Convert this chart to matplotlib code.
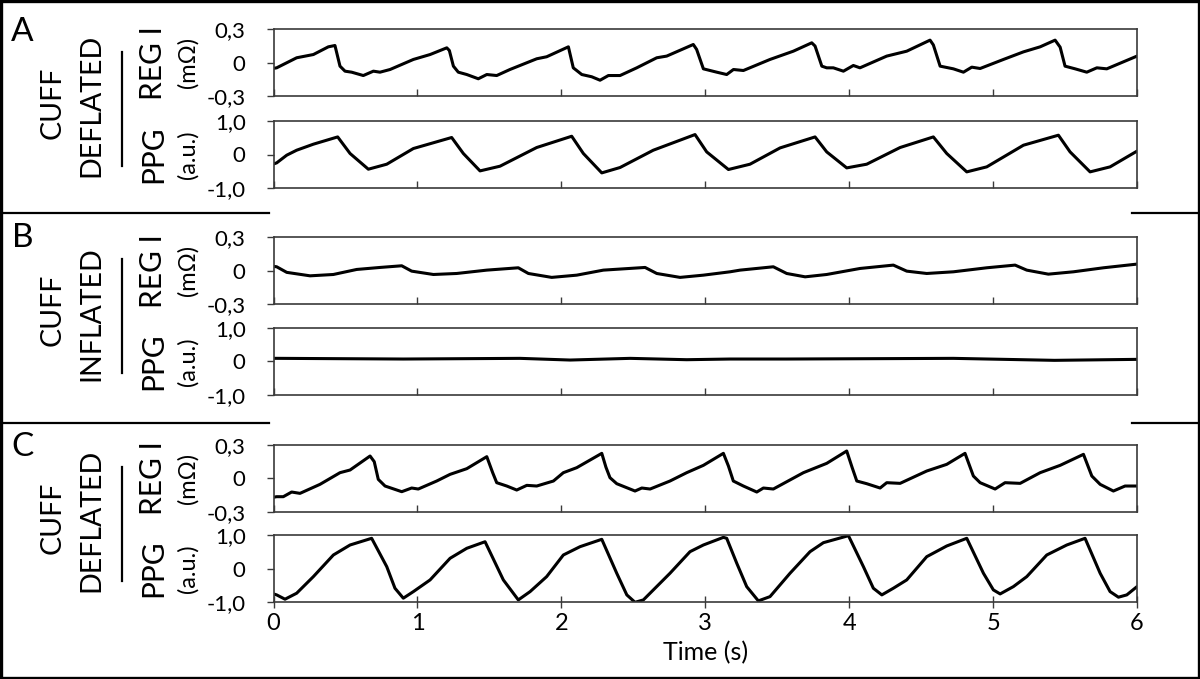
import matplotlib
matplotlib.use("Agg")
import matplotlib.pyplot as plt
from matplotlib.lines import Line2D
from matplotlib.patches import Rectangle

plt.rcParams['font.family'] = ['Lato', 'DejaVu Sans']

# ---- traced data (time in s) ----
# A: cuff deflated
reg_a_t = [0.0, 0.022, 0.161, 0.277, 0.381, 0.427, 0.462, 0.497, 0.543, 0.624, 0.694, 0.740, 0.810,
           0.972, 1.088, 1.204, 1.222, 1.250, 1.284, 1.343, 1.423, 1.482, 1.551, 1.643, 1.829, 1.898,
           2.049, 2.083, 2.142, 2.211, 2.269, 2.327, 2.408, 2.524, 2.663, 2.732, 2.917, 2.940, 2.987,
           3.080, 3.149, 3.196, 3.265, 3.450, 3.612, 3.740, 3.763, 3.810, 3.844, 3.890, 3.960, 4.029,
           4.075, 4.261, 4.400, 4.562, 4.585, 4.632, 4.724, 4.794, 4.852, 4.910, 5.072, 5.211, 5.327,
           5.431, 5.466, 5.500, 5.570, 5.651, 5.721, 5.790, 6.0]
reg_a_v = [-0.05, -0.045, 0.045, 0.074, 0.143, 0.155, -0.030, -0.075, -0.084, -0.114, -0.075, -0.084, -0.060,
           0.030, 0.074, 0.134, 0.11, -0.030, -0.084, -0.105, -0.143, -0.105, -0.114, -0.060, 0.036, 0.054,
           0.143, -0.045, -0.105, -0.125, -0.156, -0.114, -0.114, -0.045, 0.045, 0.060, 0.164, 0.12, -0.054,
           -0.084, -0.105, -0.060, -0.069, 0.030, 0.104, 0.179, 0.15, -0.030, -0.045, -0.045, -0.075, -0.024,
           -0.045, 0.060, 0.104, 0.203, 0.16, -0.030, -0.054, -0.084, -0.039, -0.051, 0.030, 0.098, 0.143,
           0.203, 0.14, -0.030, -0.054, -0.084, -0.045, -0.054, 0.060]

ppg_a_t = [0.0, 0.022, 0.092, 0.161, 0.277, 0.430, 0.446, 0.532, 0.659, 0.787, 0.972, 1.238, 1.319, 1.435,
           1.574, 1.829, 2.072, 2.153, 2.281, 2.408, 2.639, 2.929, 3.010, 3.161, 3.311, 3.520, 3.763,
           3.844, 3.983, 4.122, 4.354, 4.585, 4.678, 4.817, 4.956, 5.211, 5.454, 5.535, 5.674, 5.813, 6.0]
ppg_a_v = [-0.28, -0.248, -0.02, 0.127, 0.305, 0.50, 0.52, 0.03, -0.435, -0.287, 0.177, 0.503, 0.03, -0.485,
           -0.346, 0.207, 0.54, 0.03, -0.544, -0.385, 0.127, 0.59, 0.077, -0.444, -0.287, 0.195, 0.52,
           0.077, -0.396, -0.287, 0.207, 0.52, 0.03, -0.514, -0.366, 0.275, 0.571, 0.077, -0.514, -0.366, 0.10]

# B: cuff inflated
reg_b_t = [0.0, 0.022, 0.092, 0.254, 0.416, 0.578, 0.740, 0.891, 0.960, 1.111, 1.273, 1.482, 1.701,
           1.771, 1.933, 2.107, 2.292, 2.582, 2.663, 2.825, 2.987, 3.172, 3.242, 3.473, 3.566, 3.694,
           3.844, 4.076, 4.307, 4.400, 4.539, 4.724, 4.956, 5.153, 5.234, 5.384, 5.558, 5.767, 6.0]
reg_b_v = [0.04, 0.036, -0.014, -0.045, -0.033, 0.012, 0.030, 0.045, -0.003, -0.033, -0.024, 0.006, 0.027,
           -0.024, -0.059, -0.039, 0.006, 0.030, -0.024, -0.059, -0.039, -0.009, 0.006, 0.036, -0.024, -0.054,
           -0.033, 0.021, 0.051, -0.003, -0.024, -0.009, 0.027, 0.051, 0.006, -0.030, -0.009, 0.027, 0.060]

ppg_b_t = [0.0, 0.902, 1.713, 2.061, 2.478, 2.871, 3.172, 3.566, 4.724, 5.426, 6.0]
ppg_b_v = [0.09, 0.069, 0.089, 0.039, 0.089, 0.049, 0.069, 0.069, 0.089, 0.03, 0.059]

# C: cuff deflated
reg_c_t = [0.0, 0.022, 0.068, 0.126, 0.184, 0.323, 0.462, 0.532, 0.671, 0.700, 0.728, 0.775, 0.891,
           0.960, 1.006, 1.134, 1.227, 1.343, 1.482, 1.523, 1.551, 1.621, 1.690, 1.760, 1.829, 1.945,
           2.014, 2.107, 2.281, 2.310, 2.338, 2.385, 2.512, 2.559, 2.617, 2.755, 2.871, 2.987, 3.126,
           3.161, 3.195, 3.265, 3.358, 3.404, 3.473, 3.682, 3.844, 3.983, 4.020, 4.053, 4.122, 4.215,
           4.261, 4.354, 4.539, 4.678, 4.805, 4.863, 4.910, 5.014, 5.083, 5.188, 5.327, 5.466, 5.628,
           5.686, 5.744, 5.836, 5.917, 6.0]
reg_c_v = [-0.17, -0.165, -0.165, -0.123, -0.135, -0.054, 0.051, 0.075, 0.201, 0.15, -0.009, -0.069, -0.120,
           -0.087, -0.096, -0.024, 0.036, 0.087, 0.195, 0.051, -0.039, -0.069, -0.105, -0.063, -0.069, -0.024,
           0.051, 0.096, 0.225, 0.10, 0.006, -0.048, -0.114, -0.087, -0.096, -0.024, 0.051, 0.117, 0.225,
           0.111, -0.024, -0.069, -0.123, -0.087, -0.096, 0.051, 0.135, 0.246, 0.10, -0.024, -0.048, -0.087,
           -0.039, -0.045, 0.066, 0.126, 0.225, 0.021, -0.039, -0.096, -0.039, -0.045, 0.051, 0.117, 0.216,
           0.021, -0.054, -0.114, -0.069, -0.069]

ppg_c_t = [0.0, 0.022, 0.080, 0.161, 0.277, 0.416, 0.532, 0.682, 0.787, 0.844, 0.902, 0.972, 1.088,
           1.227, 1.343, 1.470, 1.597, 1.701, 1.783, 1.898, 2.014, 2.130, 2.281, 2.385, 2.455, 2.512,
           2.570, 2.755, 2.894, 2.987, 3.126, 3.149, 3.219, 3.288, 3.369, 3.450, 3.589, 3.728, 3.821,
           3.995, 4.099, 4.168, 4.227, 4.307, 4.400, 4.539, 4.678, 4.817, 4.933, 5.002, 5.049, 5.141,
           5.234, 5.373, 5.512, 5.639, 5.744, 5.813, 5.871, 5.929, 6.0]
ppg_c_v = [-0.75, -0.78, -0.908, -0.73, -0.237, 0.406, 0.703, 0.902, 0.059, -0.582, -0.878, -0.682, -0.335,
           0.308, 0.605, 0.80, -0.335, -0.929, -0.682, -0.237, 0.406, 0.653, 0.872, -0.137, -0.78, -1.0,
           -0.929, -0.137, 0.504, 0.703, 0.93, 0.902, 0.16, -0.534, -0.958, -0.831, -0.137, 0.504, 0.772,
           0.98, 0.059, -0.582, -0.78, -0.582, -0.335, 0.356, 0.674, 0.902, -0.137, -0.632, -0.751, -0.534,
           -0.237, 0.406, 0.703, 0.902, -0.137, -0.682, -0.848, -0.78, -0.534]

xticks = [0, 1, 2, 3, 4, 5, 6]
reg_ticks = [-0.3, 0, 0.3]
reg_ticklabels = ['-0,3', '0', '0,3']
ppg_ticks = [-1, 0, 1]
ppg_ticklabels = ['-1,0', '0', '1,0']

panel_letters = ['A', 'B', 'C']
cuff_states = ['DEFLATED', 'INFLATED', 'DEFLATED']

W, H = 1200, 679
fig = plt.figure(figsize=(12, 6.79), dpi=100)

def fx(px):
    return px / W

def fy(py):
    return 1 - py / H

x0, x1 = 273.5, 1137
# top/bottom pixel rows of each axes
rows = [(29.3, 96.3), (120.7, 188.3), (237.3, 304.3), (327.7, 395.0), (445.0, 511.7), (535.0, 602.3)]
traces = [(reg_a_t, reg_a_v), (ppg_a_t, ppg_a_v), (reg_b_t, reg_b_v),
          (ppg_b_t, ppg_b_v), (reg_c_t, reg_c_v), (ppg_c_t, ppg_c_v)]

axes = []
for i, ((top, bot), (t, v)) in enumerate(zip(rows, traces)):
    ax = fig.add_axes([fx(x0), fy(bot), fx(x1 - x0), (bot - top) / H])
    ax.plot(t, v, color='black', lw=2.2, solid_joinstyle='round', solid_capstyle='round')
    ax.set_xlim(0, 6)
    ax.set_xticks(xticks)
    if i % 2 == 0:
        ax.set_ylim(-0.3, 0.3)
        ax.set_yticks(reg_ticks)
        ax.set_yticklabels(reg_ticklabels)
    else:
        ax.set_ylim(-1, 1)
        ax.set_yticks(ppg_ticks)
        ax.set_yticklabels(ppg_ticklabels)
    for s in ax.spines.values():
        s.set_color('#3a3a3a')
        s.set_linewidth(1.2)
    ax.tick_params(axis='y', direction='out', length=5, width=1, pad=15, labelsize=16, color='#3a3a3a')
    if i == 5:
        ax.tick_params(axis='x', direction='inout', length=9, width=1, pad=3, labelsize=17, color='#3a3a3a')
        ax.set_xticklabels([str(x) for x in xticks])
        ax.set_xlabel('Time (s)', fontsize=18, labelpad=5)
    else:
        ax.tick_params(axis='x', direction='in', length=5, width=1, labelbottom=False, color='#3a3a3a')
    axes.append(ax)

# panel side labels
letter_y = [32, 238, 447.5]
for p in range(3):
    top = rows[2 * p][0]
    bot = rows[2 * p + 1][1]
    mid = (top + bot) / 2
    fig.text(fx(22.5), fy(letter_y[p]), panel_letters[p], fontsize=24, ha='center', va='center')
    fig.text(fx(53), fy(mid - 6), 'CUFF', fontsize=20.5, rotation=90, ha='center', va='center')
    fig.text(fx(91), fy(mid - 3), cuff_states[p], fontsize=20.5, rotation=90, ha='center', va='center')
    fig.add_artist(Line2D([fx(121.7), fx(121.7)], [fy(mid - 57), fy(mid + 57)],
                          transform=fig.transFigure, color='black', lw=1.6))
    reg_mid = (rows[2 * p][0] + rows[2 * p][1]) / 2
    ppg_mid = (rows[2 * p + 1][0] + rows[2 * p + 1][1]) / 2
    fig.text(fx(153), fy(reg_mid), 'REG I', fontsize=21.5, rotation=90, ha='center', va='center')
    fig.text(fx(188), fy(reg_mid), '(mΩ)', fontsize=17, rotation=90, ha='center', va='center')
    fig.text(fx(153), fy(ppg_mid), 'PPG', fontsize=21.5, rotation=90, ha='center', va='center')
    fig.text(fx(188), fy(ppg_mid), '(a.u.)', fontsize=17, rotation=90, ha='center', va='center')

# separators between panels
for sy in [212.5, 423.3]:
    fig.add_artist(Line2D([0, fx(269)], [fy(sy), fy(sy)], transform=fig.transFigure, color='black', lw=1.6))
    fig.add_artist(Line2D([fx(1132), 1], [fy(sy), fy(sy)], transform=fig.transFigure, color='black', lw=1.6))

# outer border
fig.add_artist(Rectangle((0.001, 0.0015), 0.998, 0.997, transform=fig.transFigure,
                         fill=False, edgecolor='black', lw=2.4))

fig.savefig('out.png', dpi=100)
